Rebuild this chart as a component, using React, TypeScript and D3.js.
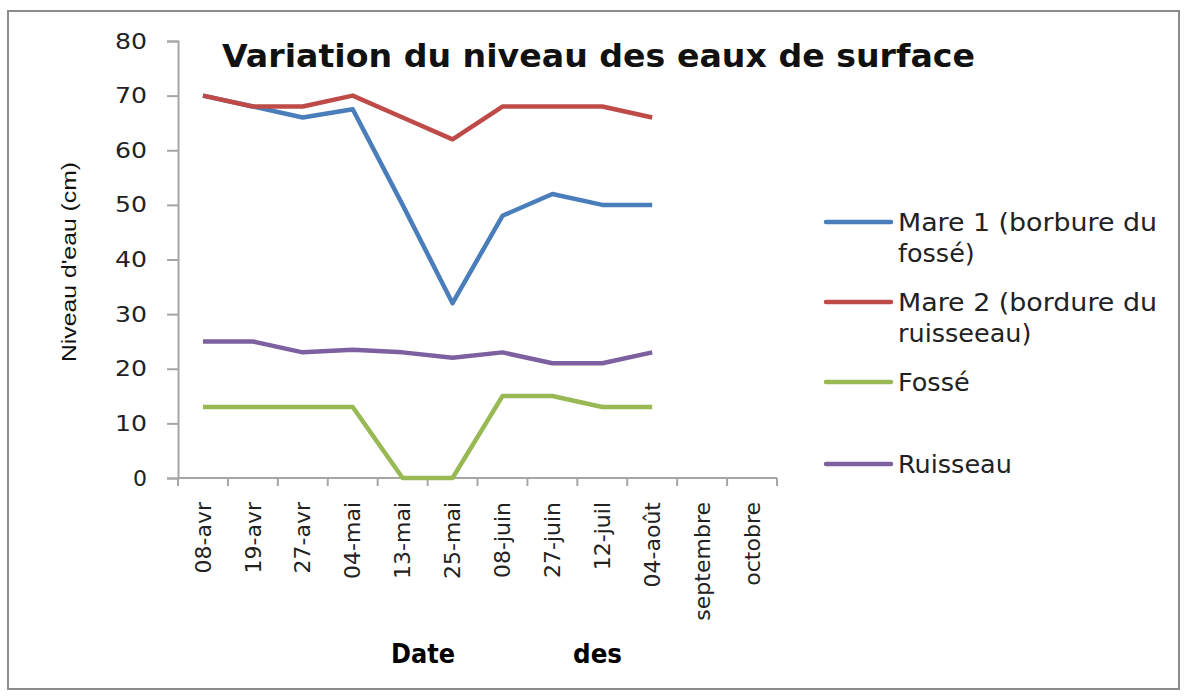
import React, { useEffect, useRef } from "react";
import * as d3 from "d3";

const categories = ["08-avr", "19-avr", "27-avr", "04-mai", "13-mai", "25-mai", "08-juin", "27-juin", "12-juil", "04-août", "septembre", "octobre"];
const mare1 = [70, 68, 66, 67.5, 50, 32, 48, 52, 50, 50];
const mare2 = [70, 68, 68, 70, 66, 62, 68, 68, 68, 66];
const fosse = [13, 13, 13, 13, 0, 0, 15, 15, 13, 13];
const ruisseau = [25, 25, 23, 23.5, 23, 22, 23, 21, 21, 23];
const seriesNames = [["Mare 1 (borbure du", "fossé)"], ["Mare 2 (bordure du", "ruisseeau)"], ["Fossé"], ["Ruisseau"]];
const seriesColors = ["#4a7ebb", "#be4b48", "#98b954", "#7d60a0"];
const yTicks = [0, 10, 20, 30, 40, 50, 60, 70, 80];

const width = 1189;
const height = 698;

export default function App() {
  const ref = useRef<SVGSVGElement>(null);

  useEffect(() => {
    const svg = d3.select(ref.current);
    svg.selectAll("*").remove();

    const x = d3.scaleBand().domain(categories).range([178, 777]);
    const y = d3.scaleLinear().domain([0, 80]).range([478, 41]);
    const font = "'DejaVu Sans', sans-serif";

    // outer frame
    svg.append("rect")
      .attr("x", 8).attr("y", 11).attr("width", 1171).attr("height", 678)
      .attr("fill", "white").attr("stroke", "#8c8c8c").attr("stroke-width", 2);

    // y axis
    const yAxis = svg.append("g")
      .attr("transform", "translate(178,0)")
      .call(d3.axisLeft(y).tickValues(yTicks).tickSize(11).tickPadding(20));
    yAxis.select(".domain").attr("stroke", "#a6a6a6").attr("stroke-width", 2);
    yAxis.selectAll(".tick line").attr("stroke", "#a6a6a6").attr("stroke-width", 2);
    yAxis.selectAll(".tick text")
      .attr("font-family", font).attr("font-size", 22).attr("fill", "#222")
      .attr("textLength", 32).attr("lengthAdjust", "spacingAndGlyphs");
    yAxis.selectAll<SVGTextElement, number>(".tick text")
      .filter((d) => d === 0)
      .attr("textLength", null);

    // x axis (ticks at band boundaries)
    const gx = svg.append("g");
    gx.append("line")
      .attr("x1", x.range()[0]).attr("x2", x.range()[1])
      .attr("y1", y(0)).attr("y2", y(0))
      .attr("stroke", "#a6a6a6").attr("stroke-width", 2);
    const bounds = categories.map((c) => x(c)!).concat([x.range()[1]]);
    gx.selectAll("line.tk").data(bounds).enter().append("line")
      .attr("class", "tk")
      .attr("x1", (d) => d).attr("x2", (d) => d)
      .attr("y1", y(0)).attr("y2", y(0) + 8)
      .attr("stroke", "#a6a6a6").attr("stroke-width", 2);
    gx.selectAll("text").data(categories).enter().append("text")
      .attr("transform", (d) => `translate(${x(d)! + x.bandwidth() / 2},502) rotate(-90)`)
      .attr("text-anchor", "end")
      .attr("dy", "0.35em")
      .attr("font-family", font).attr("font-size", 22).attr("fill", "#222")
      .text((d) => d);

    // lines
    const line = d3.line<number>()
      .x((_, i) => x(categories[i])! + x.bandwidth() / 2)
      .y((d) => y(d));
    [mare1, mare2, fosse, ruisseau].forEach((s, i) => {
      svg.append("path")
        .attr("d", line(s))
        .attr("fill", "none")
        .attr("stroke", seriesColors[i])
        .attr("stroke-width", 4.5)
        .attr("stroke-linejoin", "round");
    });

    // title
    svg.append("text")
      .attr("x", 222).attr("y", 67)
      .attr("font-family", font).attr("font-weight", "bold").attr("font-size", 32)
      .attr("fill", "#111")
      .attr("textLength", 753).attr("lengthAdjust", "spacingAndGlyphs")
      .text("Variation du niveau des eaux de surface");

    // y label
    svg.append("text")
      .attr("transform", "translate(76,262) rotate(-90)")
      .attr("text-anchor", "middle")
      .attr("font-family", "'Liberation Sans', Arial, sans-serif")
      .attr("font-size", 20).attr("fill", "#111")
      .attr("textLength", 200).attr("lengthAdjust", "spacingAndGlyphs")
      .text("Niveau d'eau (cm)");

    // legend
    const legendY = [222, 302, 382, 464];
    seriesNames.forEach((lines, i) => {
      const g = svg.append("g").attr("transform", `translate(0,${legendY[i]})`);
      g.append("line")
        .attr("x1", 826).attr("x2", 891).attr("y1", 0).attr("y2", 0)
        .attr("stroke", seriesColors[i]).attr("stroke-width", 4.5)
        .attr("stroke-linecap", "round");
      lines.forEach((t, j) => {
        g.append("text")
          .attr("x", 898).attr("y", 9 + j * 31)
          .attr("font-family", font).attr("font-size", 25.5).attr("fill", "#222")
          .attr("textLength", j === 0 && lines.length > 1 ? 259 : null)
          .attr("lengthAdjust", "spacingAndGlyphs")
          .text(t);
      });
    });

    // x title
    svg.append("text")
      .attr("x", 391).attr("y", 663)
      .attr("font-family", font).attr("font-weight", "bold").attr("font-size", 26)
      .attr("fill", "#000")
      .attr("textLength", 64).attr("lengthAdjust", "spacingAndGlyphs")
      .text("Date");
    svg.append("text")
      .attr("x", 573).attr("y", 663)
      .attr("font-family", font).attr("font-weight", "bold").attr("font-size", 26)
      .attr("fill", "#000")
      .attr("textLength", 49).attr("lengthAdjust", "spacingAndGlyphs")
      .text("des");
  }, []);

  return (
    <svg
      ref={ref}
      width={width}
      height={height}
      style={{ position: "absolute", left: 0, top: 0, background: "white" }}
    />
  );
}
